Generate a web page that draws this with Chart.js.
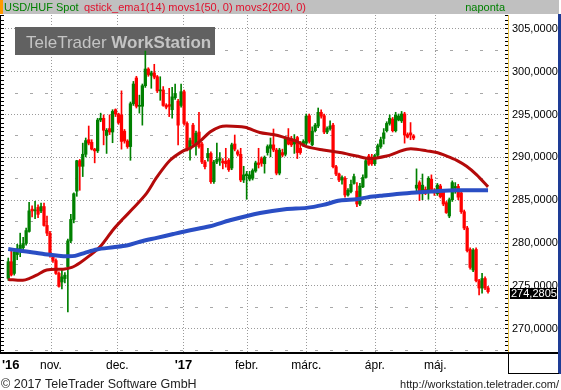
<!DOCTYPE html>
<html>
<head>
<meta charset="utf-8">
<script src="https://cdn.jsdelivr.net/npm/chart.js@4.4.1/dist/chart.umd.min.js"></script>
<style>
  html, body { margin: 0; padding: 0; background: #fff; }
  #wrap { position: relative; width: 561px; height: 390px; }
</style>
</head>
<body>
<div id="wrap"><canvas id="usdhuf-chart"></canvas></div>
<script>
// daily candles, USD/HUF spot, mid Oct 2016 .. late May 2017
const opens = [
  275.83, 277.77, 276.4, 278.6, 278.95, 279.4, 279.9, 281.3, 283.9, 283.7,
  284.1, 283.7, 284.2, 282.0, 281.1, 278.5, 277.9, 276.4, 275.4, 275.8,
  277.2, 280.2, 282.7, 286.0, 289.55, 288.9, 290.3, 292.0, 291.7, 290.9,
  290.7, 294.3, 294.5, 292.5, 293.3, 292.9, 295.5, 295.0, 294.9, 293.0,
  291.85, 291.2, 296.2, 299.2, 295.9, 295.9, 298.3, 300.25, 299.5, 299.8,
  299.35, 297.7, 297.8, 296.0, 296.1, 295.5, 296.9, 296.5, 296.0, 297.6,
  293.9, 290.9, 293.7, 291.4, 292.9, 291.5, 289.4, 289.9, 290.4, 287.1,
  289.4, 289.6, 289.5, 289.5, 289.6, 288.7, 291.5, 290.6, 290.3, 287.3,
  287.8, 287.4, 287.5, 288.35, 289.3, 289.8, 289.2, 290.5, 291.0, 291.4,
  290.8, 288.1, 290.5, 290.3, 292.05, 292.1, 291.5, 292.25, 291.0, 291.4,
  291.6, 294.8, 291.4, 293.05, 293.6, 295.2, 294.8, 292.9, 293.3, 293.7,
  288.85, 288.0, 287.3, 287.5, 285.55, 285.95, 286.9, 286.0, 284.5, 286.5,
  287.6, 290.1, 289.9, 289.2, 290.2, 291.2, 292.15, 293.05, 293.9, 294.4,
  293.05, 294.3, 294.2, 295.0, 292.6, 292.8, 292.45, 286.35, 287.0, 285.7,
  286.2, 286.15, 287.4, 286.0, 285.7, 286.6, 285.95, 284.65, 283.1, 285.0,
  286.35, 286.55, 285.8, 283.6, 281.7, 279.2, 276.8, 279.2, 275.55, 274.7,
  275.8, 274.7
];
const highs = [
  278.2, 279.1, 279.1, 279.8, 281.1, 280.6, 281.7, 284.7, 284.3, 284.8,
  284.4, 284.6, 284.6, 283.1, 281.3, 278.6, 278.1, 276.6, 276.8, 276.5,
  280.4, 283.3, 285.8, 289.6, 289.7, 291.6, 292.2, 293.6, 292.0, 291.0,
  294.5, 295.1, 294.9, 293.3, 294.9, 295.5, 295.6, 295.1, 297.7, 293.2,
  292.0, 296.4, 298.8, 299.4, 297.2, 298.5, 302.35, 300.4, 300.0, 300.8,
  299.5, 299.35, 298.2, 296.2, 298.0, 298.1, 298.5, 296.7, 298.5, 297.8,
  294.1, 292.2, 293.9, 293.0, 295.2, 291.7, 289.6, 291.0, 290.6, 289.6,
  291.6, 290.5, 289.8, 291.0, 289.8, 291.6, 292.55, 290.8, 291.0, 288.9,
  288.3, 288.3, 288.6, 289.5, 291.0, 290.0, 290.1, 291.4, 292.2, 293.25,
  291.0, 291.0, 290.9, 292.3, 293.3, 292.4, 292.6, 292.4, 291.8, 292.0,
  295.0, 295.0, 293.5, 293.9, 295.7, 295.5, 295.0, 293.5, 294.2, 293.9,
  289.0, 288.1, 287.8, 287.7, 286.3, 287.3, 288.0, 287.0, 286.9, 287.9,
  289.7, 290.3, 290.3, 290.3, 291.5, 292.3, 293.3, 294.1, 294.9, 294.6,
  295.2, 295.0, 295.3, 295.2, 292.8, 294.0, 292.6, 288.6, 287.2, 288.0,
  286.5, 287.7, 287.9, 286.3, 286.9, 286.8, 286.1, 284.8, 285.2, 287.2,
  287.0, 286.8, 286.0, 283.8, 281.9, 279.4, 279.3, 279.4, 275.7, 276.4,
  276.0, 274.9
];
const lows = [
  275.6, 276.1, 276.2, 278.0, 278.35, 278.9, 279.7, 281.2, 283.0, 282.8,
  282.9, 283.5, 281.9, 280.8, 278.3, 277.7, 276.3, 274.8, 274.6, 275.3,
  271.9, 280.0, 282.3, 285.4, 286.1, 287.7, 290.0, 291.4, 290.8, 289.3,
  290.5, 294.1, 291.4, 290.4, 292.6, 291.65, 294.7, 293.8, 290.9, 291.6,
  291.0, 289.6, 296.0, 295.7, 295.1, 293.7, 298.1, 299.4, 298.0, 299.1,
  297.5, 296.6, 295.9, 295.6, 294.7, 294.5, 296.7, 291.4, 295.8, 293.7,
  290.7, 289.6, 291.3, 290.2, 291.0, 289.2, 288.6, 289.5, 286.9, 286.9,
  289.2, 289.0, 288.6, 288.8, 288.3, 288.5, 290.7, 290.1, 287.1, 287.0,
  285.05, 287.2, 287.3, 288.2, 288.7, 288.9, 288.1, 290.2, 290.0, 290.6,
  287.9, 287.9, 290.0, 290.1, 291.4, 291.2, 290.4, 289.8, 290.3, 291.2,
  291.4, 291.6, 291.3, 292.9, 293.4, 294.5, 292.7, 292.7, 293.1, 288.7,
  287.8, 287.1, 286.8, 285.3, 285.4, 285.8, 286.8, 284.2, 284.3, 286.4,
  287.5, 289.0, 289.0, 289.0, 290.0, 291.0, 291.5, 292.9, 293.7, 292.9,
  292.9, 294.2, 294.0, 291.6, 292.2, 292.0, 292.0, 285.75, 284.9, 285.0,
  285.6, 285.05, 286.0, 285.5, 285.5, 285.2, 284.3, 283.4, 282.9, 284.8,
  285.75, 285.0, 283.4, 281.5, 278.9, 276.9, 276.6, 275.4, 273.9, 274.1,
  274.5, 274.1
];
const closes = [
  277.77, 276.22, 278.9, 279.3, 279.7, 279.9, 281.4, 283.7, 283.7, 283.8,
  283.3, 284.2, 282.0, 281.1, 278.5, 277.9, 276.4, 274.9, 276.0, 276.2,
  280.2, 282.7, 285.7, 289.55, 288.9, 290.3, 291.9, 291.6, 290.9, 290.7,
  294.3, 294.5, 293.1, 293.1, 292.9, 295.3, 295.0, 294.0, 291.8, 291.85,
  291.2, 296.2, 298.5, 295.9, 296.0, 298.3, 300.25, 299.6, 299.8, 299.3,
  297.7, 297.8, 296.0, 295.8, 295.9, 297.0, 297.4, 293.7, 297.6, 293.9,
  290.9, 291.9, 291.5, 292.75, 291.2, 289.4, 288.85, 290.4, 287.1, 289.4,
  289.7, 289.8, 289.3, 289.2, 288.5, 291.4, 290.9, 290.3, 287.3, 287.9,
  288.0, 287.9, 288.4, 289.3, 289.1, 289.25, 289.95, 291.2, 291.4, 290.8,
  288.1, 290.8, 290.2, 292.05, 291.5, 291.4, 292.0, 290.5, 290.5, 291.8,
  294.75, 291.8, 293.0, 293.7, 295.2, 294.75, 292.9, 293.3, 293.6, 288.85,
  288.0, 287.3, 287.6, 285.55, 286.1, 286.8, 287.7, 284.5, 286.6, 287.6,
  289.55, 289.15, 289.2, 290.15, 291.3, 292.0, 292.8, 293.9, 294.5, 293.05,
  294.9, 294.75, 295.0, 292.55, 292.3, 292.55, 292.2, 286.7, 285.7, 286.7,
  285.75, 287.5, 286.2, 285.8, 286.7, 285.35, 284.5, 283.5, 285.0, 287.0,
  286.55, 285.3, 283.6, 281.7, 279.05, 277.1, 279.1, 275.55, 274.7, 275.8,
  274.7, 274.28
];

// moving averages (candle index, value)
const ma50At = [0, 4.9, 7.3, 9.5, 12.9, 18.5, 21.3, 24.1, 27.4, 30.8, 35.2, 38.6, 41.9, 46.4, 49.8,
  54.3, 58.7, 61, 64.3, 67.7, 71, 73.3, 79.4, 84.4, 88.9, 92.3, 96.8, 100.1, 105.7, 111.3,
  116.9, 121.4, 127, 130.3, 133.7, 137, 140.4, 143.8, 147.1, 150.5, 153.8, 157.2, 161];
const ma50 = [275.7, 275.6, 275.85, 276.2, 276.8, 276.9, 277.1, 277.65, 278.5, 279.5, 281.5, 282.8, 284.0, 285.75, 287.6,
  289.6, 290.7, 291.0, 291.8, 292.9, 293.5, 293.6, 293.45, 292.85, 292.6, 292.3, 291.8, 291.2, 290.8, 290.5,
  290.1, 289.8, 290.1, 290.5, 290.9, 290.9, 290.7, 290.5, 290.1, 289.6, 288.9, 287.9, 286.5];
const ma200At = [0, 3.9, 8.4, 12.3, 16.2, 19.6, 22.4, 25.7, 29.7, 35.2, 39.7, 44.2, 49.8, 55.4, 59.9,
  67.7, 74.4, 84.5, 92.9, 100.1, 105.7, 111.3, 116.9, 120.8, 125.8, 131.4, 137, 143.8, 150.5, 161];
const ma200 = [279.25, 279.05, 278.85, 278.65, 278.5, 278.4, 278.45, 278.8, 279.2, 279.45, 279.65, 280.1, 280.55, 281.0, 281.35,
  281.9, 282.6, 283.45, 283.9, 284.05, 284.4, 284.9, 285.05, 285.3, 285.5, 285.7, 285.85, 286.0, 286.1, 286.1];

// axis labels
const priceTicks = [270, 275, 280, 285, 290, 295, 300, 305];
const monthLabels = ["'16", 'nov.', 'dec.', "'17", 'febr.', 'márc.', 'ápr.', 'máj.'];
const monthAt = [0.9, 14.3, 36.6, 58.8, 80, 100, 123, 143.3];
const yearLabels = ["'16", "'17"];
const lastPrice = 274.2805;

const FONT = '"Liberation Sans", Arial, sans-serif';
const UP = '#008000';
const DOWN = '#ff0000';

const candleColor = (i) => closes[i] >= opens[i] ? UP : DOWN;
const fmt = (v) => v.toFixed(4).replace('.', ',');

const chrome = {
    id: 'chrome',
    beforeDraw(chart) {
        const { ctx, width, height } = chart;
        ctx.save();
        ctx.fillStyle = '#ffffff';
        ctx.fillRect(0, 0, width, height);

        // title strip
        ctx.fillStyle = '#c0c0c0';
        ctx.fillRect(0, 0, 559, 14);
        ctx.fillStyle = '#ff9900';
        ctx.fillRect(0, 0, 3, 14);
        ctx.font = `11px ${FONT}`;
        ctx.textBaseline = 'middle';
        ctx.fillStyle = '#008000';
        ctx.fillText('USD/HUF Spot', 4, 7.5);
        ctx.fillStyle = '#e0102c';
        ctx.fillText('qstick_ema1(14) movs1(50, 0) movs2(200, 0)', 84, 7.5);
        ctx.fillStyle = '#008000';
        ctx.textAlign = 'right';
        ctx.fillText('naponta', 505, 7.5);
        ctx.restore();
    },
    beforeDatasetsDraw(chart) {
        const { ctx, chartArea: a, scales: { x, y } } = chart;
        ctx.save();
        ctx.lineWidth = 1;

        // half-step dashes
        ctx.strokeStyle = '#a8a8a8';
        ctx.setLineDash([3, 12]);
        priceTicks.forEach(v => {
            [v - 2.5, v + 2.5].forEach(m => {
                if (m > y.max || m < y.min) return;
                const py = Math.round(y.getPixelForValue(m)) + 0.5;
                ctx.beginPath();
                ctx.moveTo(0, py);
                ctx.lineTo(a.right, py);
                ctx.stroke();
            });
        });

        // dotted grid
        ctx.strokeStyle = '#9a9a9a';
        ctx.setLineDash([1, 2]);
        priceTicks.forEach(v => {
            const py = Math.round(y.getPixelForValue(v)) + 0.5;
            ctx.beginPath();
            ctx.moveTo(a.left, py);
            ctx.lineTo(a.right, py);
            ctx.stroke();
        });
        monthAt.forEach((k, i) => {
            if (i === 0) return;
            const px = Math.round(x.getPixelForValue(k)) + 0.5;
            ctx.beginPath();
            ctx.moveTo(px, a.top);
            ctx.lineTo(px, a.bottom);
            ctx.stroke();
        });
        ctx.setLineDash([]);

        // watermark
        ctx.fillStyle = '#616161';
        ctx.fillRect(15, 27, 200, 28);
        ctx.fillStyle = '#c4c4c4';
        ctx.textBaseline = 'alphabetic';
        ctx.font = `17px ${FONT}`;
        ctx.fillText('TeleTrader ', 26, 48);
        const w = ctx.measureText('TeleTrader ').width;
        ctx.font = `bold 17px ${FONT}`;
        ctx.fillText('WorkStation', 26 + w, 48);
        ctx.restore();
    },
    afterDraw(chart) {
        const { ctx, chartArea: a, scales: { x, y } } = chart;
        ctx.save();

        // frame
        ctx.fillStyle = '#000000';
        ctx.fillRect(0, a.top, 1, a.bottom - a.top);
        ctx.fillRect(0, a.bottom, 559, 2);
        ctx.fillStyle = '#e8c040';
        ctx.fillRect(a.right, a.top, 1, a.bottom - a.top);
        ctx.fillStyle = '#1e3c96';
        ctx.fillRect(558, 14, 3, 360);
        ctx.fillStyle = '#000000';
        ctx.fillRect(a.right, a.bottom, 1, 21);
        ctx.fillRect(a.right, a.bottom + 21, 51, 1);

        // price ticks on both edges
        for (let v = Math.ceil(y.min * 2) / 2; v <= y.max; v += 0.5) {
            const py = Math.round(y.getPixelForValue(v));
            ctx.fillRect(1, py, 3, 1);
            ctx.fillRect(a.right - 3, py, 3, 1);
        }

        // price labels
        ctx.font = `11px ${FONT}`;
        ctx.textBaseline = 'middle';
        ctx.textAlign = 'left';
        priceTicks.forEach(v => {
            ctx.fillText(fmt(v), a.right + 4, y.getPixelForValue(v) + 0.5);
        });

        // last price marker
        const lp = y.getPixelForValue(lastPrice);
        ctx.fillStyle = '#000000';
        ctx.fillRect(a.right + 2, Math.round(lp) - 4, 47, 11);
        ctx.fillStyle = '#ffffff';
        ctx.fillText(fmt(lastPrice), a.right + 3, Math.round(lp) + 1.5);

        // month labels
        ctx.fillStyle = '#000000';
        ctx.textBaseline = 'alphabetic';
        monthLabels.forEach((t, i) => {
            const bold = yearLabels.includes(t);
            ctx.font = bold ? `bold 13px ${FONT}` : `12px ${FONT}`;
            ctx.textAlign = i === 0 ? 'left' : 'center';
            const px = i === 0 ? 2 : x.getPixelForValue(monthAt[i]);
            ctx.fillText(t, px, 369);
        });

        // footer
        ctx.fillStyle = '#222222';
        ctx.font = `12.5px ${FONT}`;
        ctx.textAlign = 'left';
        ctx.fillText('\u00a9 2017 TeleTrader Software GmbH', 1, 388);
        ctx.font = `11px ${FONT}`;
        ctx.textAlign = 'right';
        ctx.fillText('http://workstation.teletrader.com/', 559, 388);
        ctx.restore();
    }
};

function createQuoteChart() {
    const el = document.getElementById('usdhuf-chart');
    if (!el) return;

    const idx = closes.map((_, i) => i);

    const datasets = [{
        type: 'line',
        label: 'movs1(50, 0)',
        data: ma50At.map((k, i) => ({ x: k, y: ma50[i] })),
        borderColor: '#b40a0a',
        borderWidth: 3,
        pointRadius: 0,
        tension: 0.3,
        order: 1,
    }, {
        type: 'line',
        label: 'movs2(200, 0)',
        data: ma200At.map((k, i) => ({ x: k, y: ma200[i] })),
        borderColor: '#2a4ec4',
        borderWidth: 4,
        pointRadius: 0,
        tension: 0.3,
        order: 0,
    }, {
        type: 'bar',
        label: 'wicks',
        data: idx.map(i => ({ x: i, y: [lows[i], highs[i]] })),
        backgroundColor: ctx => candleColor(ctx.dataIndex),
        barThickness: 1,
        grouped: false,
        order: 3,
    }, {
        type: 'bar',
        label: 'bodies',
        data: idx.map(i => ({ x: i, y: [opens[i], closes[i]] })),
        backgroundColor: ctx => candleColor(ctx.dataIndex),
        barThickness: 2.6,
        minBarLength: 1,
        grouped: false,
        order: 2,
    }];

    new Chart(el, {
        type: 'bar',
        data: { datasets },
        options: {
            responsive: true,
            maintainAspectRatio: false,
            animation: false,
            devicePixelRatio: 1,
            layout: { padding: { left: 2, right: 53, top: 15, bottom: 38 } },
            scales: {
                x: { type: 'linear', min: -2.1, max: 167.7, offset: false, display: false },
                y: { type: 'linear', min: 267.235, max: 306.55, display: false }
            },
            plugins: {
                legend: { display: false },
                tooltip: { enabled: false }
            }
        },
        plugins: [chrome]
    });
}

document.addEventListener('DOMContentLoaded', createQuoteChart);
</script>
</body>
</html>
